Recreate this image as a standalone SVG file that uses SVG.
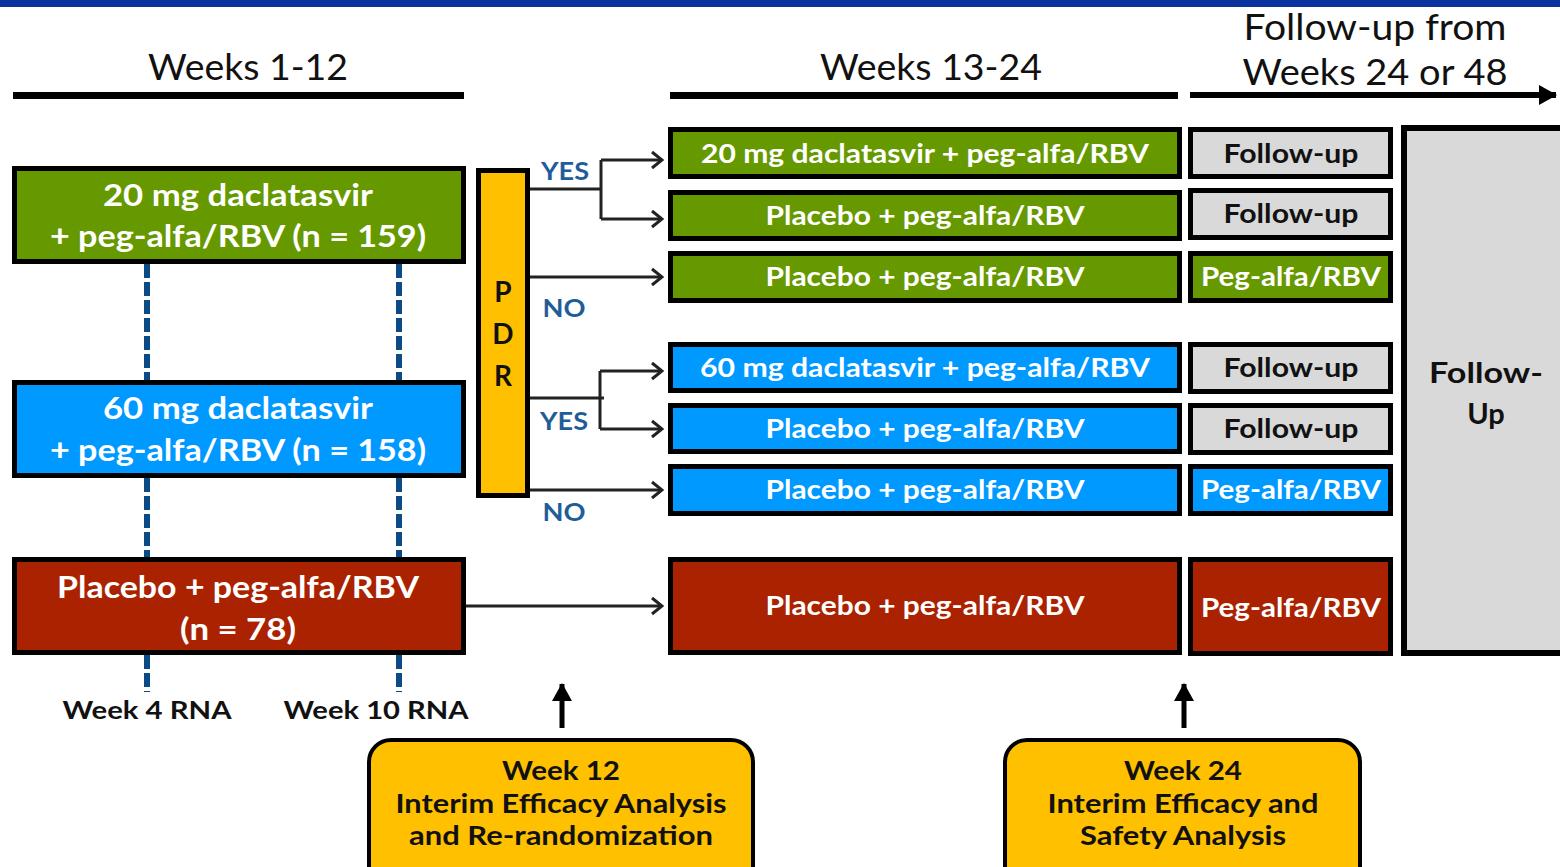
<svg xmlns="http://www.w3.org/2000/svg" width="1560" height="867" viewBox="0 0 1560 867">
<defs>
<style>
.bx{stroke:#000;stroke-width:5}
.g{fill:#669900}.b{fill:#0099ff}.r{fill:#aa2200}.gr{fill:#d9d9d9}.y{fill:#ffc000}
.t{font-family:Lato,"Open Sans","Liberation Sans",sans-serif;font-weight:bold;text-anchor:middle}
.w{fill:#fff}.k{fill:#111}
.yn{fill:#1f5d99;font-size:25px}
.hd{font-family:Lato,"Open Sans","Liberation Sans",sans-serif;font-size:36px;fill:#111;text-anchor:middle}
.cn{fill:none;stroke:#222;stroke-width:3}
.dash{stroke:#0b4a85;stroke-width:6;stroke-dasharray:14 4}
</style>
<marker id="oa" viewBox="-12 -10 14 20" refX="0" refY="0" markerWidth="14" markerHeight="20" markerUnits="userSpaceOnUse" orient="auto">
<path d="M-10,-8 L0,0 L-10,8" fill="none" stroke="#222" stroke-width="3"/>
</marker>
<marker id="fa" viewBox="-18 -11 20 22" refX="0" refY="0" markerWidth="20" markerHeight="22" markerUnits="userSpaceOnUse" orient="auto">
<path d="M-17,-10 L1,0 L-17,10 Z" fill="#000"/>
</marker>
</defs>
<rect x="0" y="0" width="1560" height="867" fill="#fff"/>
<rect x="0" y="0" width="1560" height="7" fill="#0a33a0"/>

<g id="headers">
<text class="hd" x="248" y="80" textLength="200" lengthAdjust="spacingAndGlyphs">Weeks 1-12</text>
<rect x="13" y="92" width="451" height="7" fill="#000"/>
<text class="hd" x="931" y="80" textLength="222" lengthAdjust="spacingAndGlyphs">Weeks 13-24</text>
<rect x="670" y="92" width="508" height="7" fill="#000"/>
<text class="hd" x="1375" y="40" textLength="263" lengthAdjust="spacingAndGlyphs">Follow-up from</text>
<text class="hd" x="1375" y="85" textLength="265" lengthAdjust="spacingAndGlyphs">Weeks 24 or 48</text>
</g>

<g id="connectors">
<line x1="1190" y1="95" x2="1556" y2="95" stroke="#000" stroke-width="6" marker-end="url(#fa)"/>
<line class="dash" x1="147" y1="264" x2="147" y2="380"/>
<line class="dash" x1="399" y1="264" x2="399" y2="380"/>
<line class="dash" x1="147" y1="478" x2="147" y2="557"/>
<line class="dash" x1="399" y1="478" x2="399" y2="557"/>
<line class="dash" x1="147" y1="655" x2="147" y2="692"/>
<line class="dash" x1="399" y1="655" x2="399" y2="692"/>
<path class="cn" d="M530,189 H601"/>
<path class="cn" d="M601,160 V219"/>
<path class="cn" d="M601,160 H662" marker-end="url(#oa)"/>
<path class="cn" d="M601,219 H662" marker-end="url(#oa)"/>
<path class="cn" d="M530,277 H662" marker-end="url(#oa)"/>
<path class="cn" d="M530,398 H604"/>
<path class="cn" d="M600,371 V429"/>
<path class="cn" d="M600,371 H662" marker-end="url(#oa)"/>
<path class="cn" d="M600,429 H662" marker-end="url(#oa)"/>
<path class="cn" d="M530,490 H662" marker-end="url(#oa)"/>
<path class="cn" d="M466,606 H662" marker-end="url(#oa)"/>
<line x1="562" y1="728" x2="562" y2="684" stroke="#000" stroke-width="5" marker-end="url(#fa)"/>
<line x1="1184" y1="728" x2="1184" y2="684" stroke="#000" stroke-width="5" marker-end="url(#fa)"/>
<text class="t yn" x="565" y="180" textLength="48" lengthAdjust="spacingAndGlyphs">YES</text>
<text class="t yn" x="564" y="317" textLength="43" lengthAdjust="spacingAndGlyphs">NO</text>
<text class="t yn" x="564" y="430" textLength="48" lengthAdjust="spacingAndGlyphs">YES</text>
<text class="t yn" x="564" y="521" textLength="43" lengthAdjust="spacingAndGlyphs">NO</text>
</g>

<g id="arm20">
<rect class="bx g" x="14.5" y="168.5" width="449" height="93"/>
<text class="t w" x="238" y="206" font-size="31" textLength="270" lengthAdjust="spacingAndGlyphs">20 mg daclatasvir</text>
<text class="t w" x="238" y="247" font-size="31" textLength="376" lengthAdjust="spacingAndGlyphs">+ peg-alfa/RBV (n = 159)</text>
</g>
<g id="arm60">
<rect class="bx b" x="14.5" y="382.5" width="449" height="93"/>
<text class="t w" x="238" y="419" font-size="31" textLength="270" lengthAdjust="spacingAndGlyphs">60 mg daclatasvir</text>
<text class="t w" x="238" y="461" font-size="31" textLength="376" lengthAdjust="spacingAndGlyphs">+ peg-alfa/RBV (n = 158)</text>
</g>
<g id="armpl">
<rect class="bx r" x="14.5" y="559.5" width="449" height="93"/>
<text class="t w" x="238" y="598" font-size="31" textLength="362" lengthAdjust="spacingAndGlyphs">Placebo + peg-alfa/RBV</text>
<text class="t w" x="238" y="640" font-size="31" textLength="116" lengthAdjust="spacingAndGlyphs">(n = 78)</text>
</g>
<g id="rna">
<text class="t k" x="147" y="719" font-size="25" textLength="169" lengthAdjust="spacingAndGlyphs">Week 4 RNA</text>
<text class="t k" x="376" y="719" font-size="25" textLength="185" lengthAdjust="spacingAndGlyphs">Week 10 RNA</text>
</g>

<g id="pdr">
<rect class="bx y" x="478.5" y="170.5" width="49" height="325"/>
<text class="t k" x="503" y="302" font-size="28">P</text>
<text class="t k" x="503" y="344" font-size="28">D</text>
<text class="t k" x="503" y="386" font-size="28">R</text>
</g>

<g id="r1"><rect class="bx g" x="670.5" y="129.5" width="509" height="47"/><text class="t w" x="925" y="163" font-size="27" textLength="448" lengthAdjust="spacingAndGlyphs">20 mg daclatasvir + peg-alfa/RBV</text></g>
<g id="r2"><rect class="bx g" x="670.5" y="192.5" width="509" height="46"/><text class="t w" x="925" y="225" font-size="27" textLength="319" lengthAdjust="spacingAndGlyphs">Placebo + peg-alfa/RBV</text></g>
<g id="r3"><rect class="bx g" x="670.5" y="253.5" width="509" height="47"/><text class="t w" x="925" y="286" font-size="27" textLength="319" lengthAdjust="spacingAndGlyphs">Placebo + peg-alfa/RBV</text></g>
<g id="r4"><rect class="bx b" x="670.5" y="344.5" width="509" height="46"/><text class="t w" x="925" y="377" font-size="27" textLength="450" lengthAdjust="spacingAndGlyphs">60 mg daclatasvir + peg-alfa/RBV</text></g>
<g id="r5"><rect class="bx b" x="670.5" y="405.5" width="509" height="46"/><text class="t w" x="925" y="438" font-size="27" textLength="319" lengthAdjust="spacingAndGlyphs">Placebo + peg-alfa/RBV</text></g>
<g id="r6"><rect class="bx b" x="670.5" y="466.5" width="509" height="47"/><text class="t w" x="925" y="499" font-size="27" textLength="319" lengthAdjust="spacingAndGlyphs">Placebo + peg-alfa/RBV</text></g>
<g id="r7"><rect class="bx r" x="670.5" y="559.5" width="509" height="93"/><text class="t w" x="925" y="615" font-size="27" textLength="319" lengthAdjust="spacingAndGlyphs">Placebo + peg-alfa/RBV</text></g>

<g id="f1"><rect class="bx gr" x="1190.5" y="129.5" width="200" height="47"/><text class="t k" x="1291" y="163" font-size="27" textLength="135" lengthAdjust="spacingAndGlyphs">Follow-up</text></g>
<g id="f2"><rect class="bx gr" x="1190.5" y="190.5" width="200" height="47"/><text class="t k" x="1291" y="223" font-size="27" textLength="135" lengthAdjust="spacingAndGlyphs">Follow-up</text></g>
<g id="f3"><rect class="bx g" x="1190.5" y="253.5" width="200" height="47"/><text class="t w" x="1291" y="286" font-size="27" textLength="180" lengthAdjust="spacingAndGlyphs">Peg-alfa/RBV</text></g>
<g id="f4"><rect class="bx gr" x="1190.5" y="344.5" width="200" height="47"/><text class="t k" x="1291" y="377" font-size="27" textLength="135" lengthAdjust="spacingAndGlyphs">Follow-up</text></g>
<g id="f5"><rect class="bx gr" x="1190.5" y="405.5" width="200" height="47"/><text class="t k" x="1291" y="438" font-size="27" textLength="135" lengthAdjust="spacingAndGlyphs">Follow-up</text></g>
<g id="f6"><rect class="bx b" x="1190.5" y="466.5" width="200" height="47"/><text class="t w" x="1291" y="499" font-size="27" textLength="180" lengthAdjust="spacingAndGlyphs">Peg-alfa/RBV</text></g>
<g id="f7"><rect class="bx r" x="1190.5" y="559.5" width="200" height="94"/><text class="t w" x="1291" y="617" font-size="27" textLength="180" lengthAdjust="spacingAndGlyphs">Peg-alfa/RBV</text></g>

<g id="followup">
<rect x="1404" y="128" width="170" height="525" fill="#d9d9d9" stroke="#000" stroke-width="6"/>
<text class="t k" x="1486" y="383" font-size="29" textLength="114" lengthAdjust="spacingAndGlyphs">Follow-</text>
<text class="t k" x="1486" y="424" font-size="29">Up</text>
</g>

<g id="wk12">
<rect x="369" y="740" width="384" height="150" rx="22" fill="#ffc000" stroke="#000" stroke-width="4"/>
<text class="t k" x="561" y="780" font-size="26" textLength="118" lengthAdjust="spacingAndGlyphs">Week 12</text>
<text class="t k" x="561" y="813" font-size="26" textLength="331" lengthAdjust="spacingAndGlyphs">Interim Efficacy Analysis</text>
<text class="t k" x="561" y="845" font-size="26" textLength="304" lengthAdjust="spacingAndGlyphs">and Re-randomization</text>
</g>
<g id="wk24">
<rect x="1005" y="740" width="355" height="150" rx="22" fill="#ffc000" stroke="#000" stroke-width="4"/>
<text class="t k" x="1183" y="780" font-size="26" textLength="118" lengthAdjust="spacingAndGlyphs">Week 24</text>
<text class="t k" x="1183" y="813" font-size="26" textLength="271" lengthAdjust="spacingAndGlyphs">Interim Efficacy and</text>
<text class="t k" x="1183" y="845" font-size="26" textLength="206" lengthAdjust="spacingAndGlyphs">Safety Analysis</text>
</g>
</svg>
